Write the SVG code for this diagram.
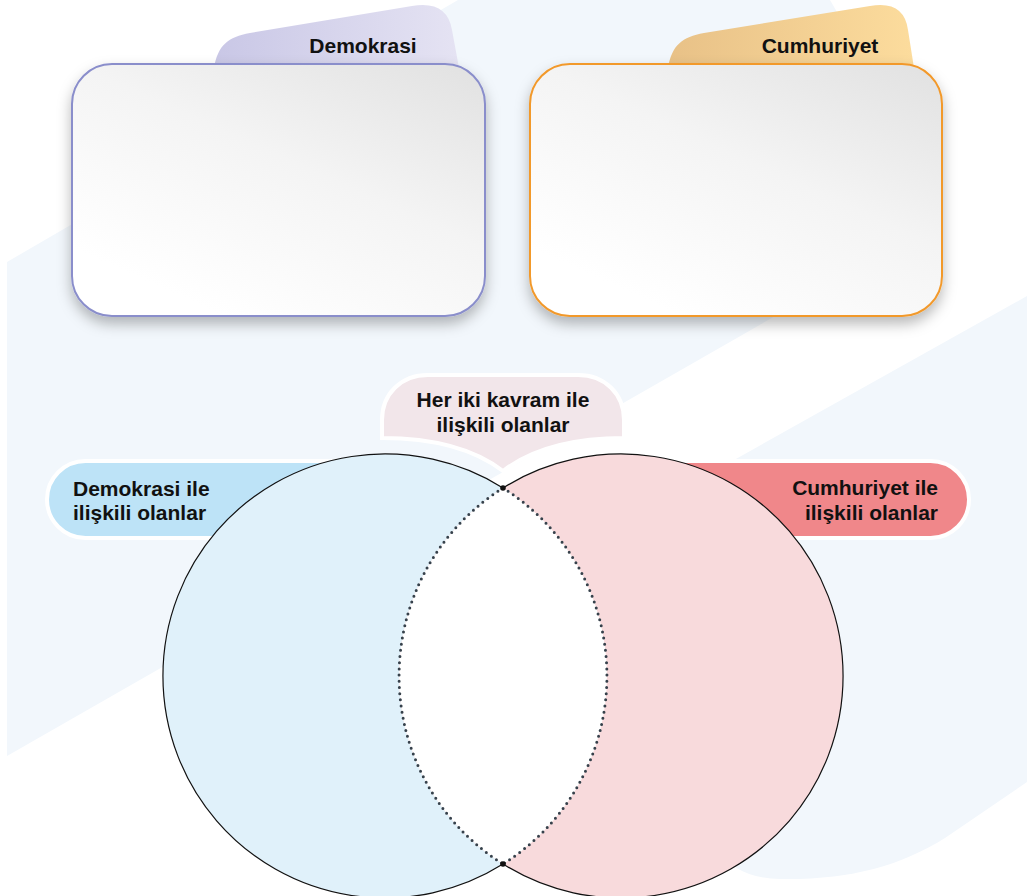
<svg xmlns="http://www.w3.org/2000/svg" width="1027" height="896" viewBox="0 0 1027 896">
  <defs>
    <style>
      .lbl { font-family: "Liberation Sans", Arial, Helvetica, sans-serif; font-weight: bold; font-size: 21px; fill: #111; }
      .band { fill: #f2f7fc; }
      .outer { fill: none; stroke: #111; stroke-width: 1.2; }
      .dots { fill: none; stroke: #36414b; stroke-width: 3; stroke-linecap: round; stroke-dasharray: 0 6.2; }
      .pill { stroke: #ffffff; stroke-width: 4; }
    </style>
    <linearGradient id="cardFill" x1="1" y1="0" x2="0.3" y2="0.95">
      <stop offset="0" stop-color="#e1e1e1"/>
      <stop offset="0.5" stop-color="#f4f4f4"/>
      <stop offset="1" stop-color="#ffffff"/>
    </linearGradient>
    <linearGradient id="tabLilac" x1="0" y1="0" x2="1" y2="0">
      <stop offset="0" stop-color="#c9c7e6"/>
      <stop offset="1" stop-color="#e5e3f3"/>
    </linearGradient>
    <linearGradient id="tabGold" x1="0" y1="0" x2="1" y2="0">
      <stop offset="0" stop-color="#e8c187"/>
      <stop offset="1" stop-color="#fcdc9d"/>
    </linearGradient>
    <filter id="cardShadow" x="-10%" y="-10%" width="120%" height="130%">
      <feDropShadow dx="0" dy="7" stdDeviation="7" flood-color="#000" flood-opacity="0.28"/>
    </filter>
  </defs>

  <!-- page background with soft diagonal bands -->
  <rect width="1027" height="896" fill="#ffffff"/>
  <path class="band" d="M 7 262 L 458 0 L 830 0 L 930 172 Q 940 200 915 236 L 7 756 Z"/>
  <path class="band" d="M 1027 296 L 600 535 L 720 850 Q 735 878 780 879 C 850 880 900 866 945 838 L 1027 782 Z"/>

  <!-- concept card: Demokrasi -->
  <g id="card-demokrasi">
    <path d="M 214 68 C 218 45 228 37 250 33 L 412 6 Q 447 0 452 30 L 459 68 Z" fill="url(#tabLilac)"/>
    <rect x="72" y="64" width="413" height="252" rx="40" fill="url(#cardFill)" stroke="#8a8ecb" stroke-width="2" filter="url(#cardShadow)"/>
    <text class="lbl" x="363" y="53" text-anchor="middle">Demokrasi</text>
  </g>

  <!-- concept card: Cumhuriyet -->
  <g id="card-cumhuriyet">
    <path d="M 668 68 C 672 45 682 37 704 33 L 870 6 Q 904 0 908 30 L 914 68 Z" fill="url(#tabGold)"/>
    <rect x="530" y="64" width="412" height="252" rx="40" fill="url(#cardFill)" stroke="#f2992c" stroke-width="2" filter="url(#cardShadow)"/>
    <text class="lbl" x="820" y="53" text-anchor="middle">Cumhuriyet</text>
  </g>

  <!-- side labels (sit behind the circles) -->
  <g id="label-demokrasi">
    <rect class="pill" x="47" y="461" width="360" height="77" rx="38.5" fill="#bde3f7"/>
    <text class="lbl" x="73" y="496">Demokrasi ile</text>
    <text class="lbl" x="73" y="520">ilişkili olanlar</text>
  </g>
  <g id="label-cumhuriyet">
    <rect class="pill" x="619" y="461" width="350" height="77" rx="38.5" fill="#f0878a"/>
    <text class="lbl" x="938" y="495" text-anchor="end">Cumhuriyet ile</text>
    <text class="lbl" x="938" y="520" text-anchor="end">ilişkili olanlar</text>
  </g>

  <!-- label for the shared region -->
  <g id="label-ortak">
    <path d="M 382 438 L 382 420 C 382 394 401 375 428 375 L 578 375 C 605 375 624 394 624 420 L 624 438 Q 546 438 503 471 Q 460 438 382 438 Z" fill="#f2e6ea" stroke="#ffffff" stroke-width="4"/>
    <text class="lbl" x="503" y="407" text-anchor="middle">Her iki kavram ile</text>
    <text class="lbl" x="503" y="432" text-anchor="middle">ilişkili olanlar</text>
  </g>

  <!-- Venn circles -->
  <g id="venn-demokrasi">
    <circle cx="385" cy="676" r="222" fill="#e0f1fa"/>
  </g>
  <g id="venn-cumhuriyet">
    <circle cx="621" cy="676" r="222" fill="#f8dadc"/>
  </g>
  <g id="venn-ortak">
    <path d="M 503 488 A 222 222 0 0 1 503 864 A 222 222 0 0 1 503 488 Z" fill="#ffffff"/>
  </g>

  <!-- outlines -->
  <g id="connectors">
    <path class="outer" d="M 503 488 A 222 222 0 1 0 503 864"/>
    <path class="outer" d="M 503 488 A 222 222 0 1 1 503 864"/>
    <path class="dots" d="M 503 488 A 222 222 0 0 1 503 864"/>
    <path class="dots" d="M 503 488 A 222 222 0 0 0 503 864"/>
    <circle cx="503" cy="488" r="2.8" fill="#111"/>
    <circle cx="503" cy="864" r="2.8" fill="#111"/>
  </g>
</svg>
